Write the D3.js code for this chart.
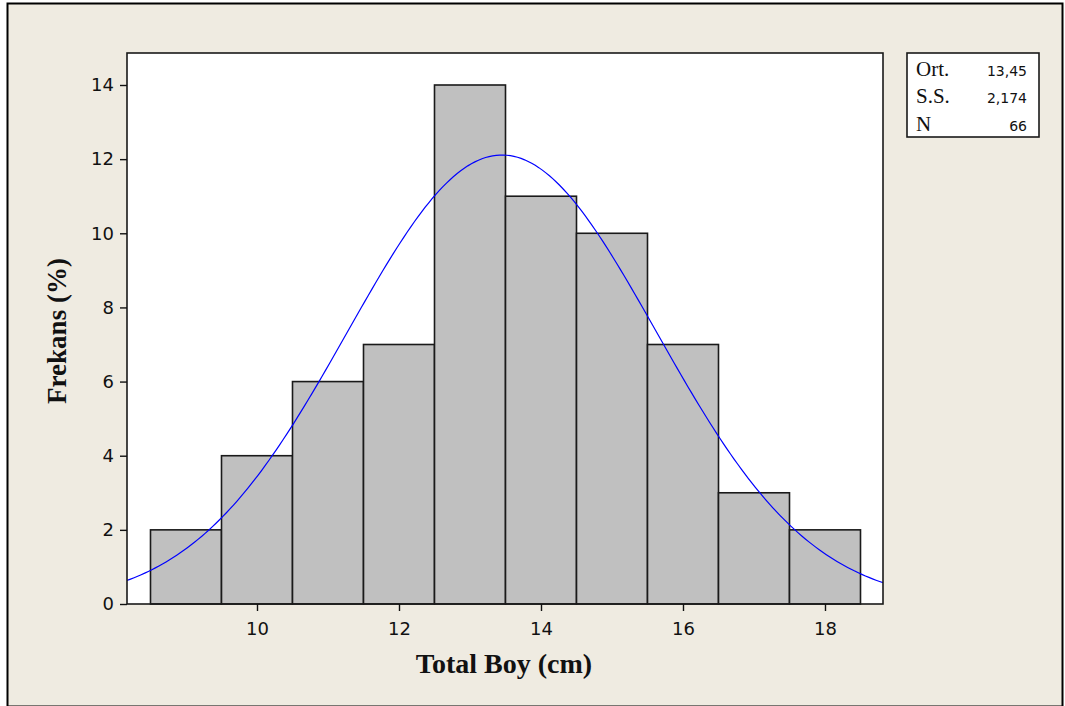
<!DOCTYPE html>
<html>
<head>
<meta charset="utf-8">
<script src="https://cdn.jsdelivr.net/npm/d3@7"></script>
<style>
  html, body { margin: 0; padding: 0; background: #fff; }
  svg { display: block; }
</style>
</head>
<body>
<svg id="chart" width="1065" height="706"></svg>
<script>
// Histogram of total length with fitted normal curve
const binStarts = [8.5, 9.5, 10.5, 11.5, 12.5, 13.5, 14.5, 15.5, 16.5, 17.5];
const binWidth = 1;
const counts = [2, 4, 6, 7, 14, 11, 10, 7, 3, 2];
const xTicks = [10, 12, 14, 16, 18];
const yTicks = [0, 2, 4, 6, 8, 10, 12, 14];
const statLabels = ["Ort.", "S.S.", "N"];
const statValues = ["13,45", "2,174", "66"];
const mean = 13.45, sd = 2.174, n = 66;

const svg = d3.select("#chart");

// page background and frame
svg.append("rect").attr("x", 0).attr("y", 0).attr("width", 1065).attr("height", 706).attr("fill", "#fff");
svg.append("rect").attr("x", 7.5).attr("y", 3.5).attr("width", 1055).attr("height", 703)
  .attr("fill", "#EFEBE1").attr("stroke", "#000").attr("stroke-width", 2);

const plot = { left: 127, right: 883, top: 53, bottom: 604 };

const x = d3.scaleLinear().domain([8.169, 18.817]).range([plot.left, plot.right]);
const y = d3.scaleLinear().domain([0, 14]).range([604, 85]);

svg.append("defs").append("clipPath").attr("id", "plotclip")
  .append("rect").attr("x", plot.left).attr("y", plot.top)
  .attr("width", plot.right - plot.left).attr("height", plot.bottom - plot.top);

svg.append("rect").attr("x", plot.left).attr("y", plot.top)
  .attr("width", plot.right - plot.left).attr("height", plot.bottom - plot.top)
  .attr("fill", "#fff");

// bars
svg.append("g").selectAll("rect").data(counts).join("rect")
  .attr("x", (d, i) => x(binStarts[i]))
  .attr("y", d => y(d))
  .attr("width", (d, i) => x(binStarts[i] + binWidth) - x(binStarts[i]))
  .attr("height", d => y(0) - y(d))
  .attr("fill", "#C0C0C0").attr("stroke", "#1a1a1a").attr("stroke-width", 1.6);

// fitted normal curve scaled to counts
const dens = v => n * binWidth / (sd * Math.sqrt(2 * Math.PI)) * Math.exp(-0.5 * ((v - mean) / sd) ** 2);
const curvePts = d3.range(x.domain()[0], x.domain()[1] + 0.01, 0.05).map(v => [v, dens(v)]);
svg.append("path").datum(curvePts)
  .attr("clip-path", "url(#plotclip)")
  .attr("d", d3.line().x(d => x(d[0])).y(d => y(d[1])))
  .attr("fill", "none").attr("stroke", "#0000FF").attr("stroke-width", 1.2);

// plot frame
svg.append("rect").attr("x", plot.left).attr("y", plot.top)
  .attr("width", plot.right - plot.left).attr("height", plot.bottom - plot.top)
  .attr("fill", "none").attr("stroke", "#1a1a1a").attr("stroke-width", 1.6);

// axes
const tickFont = "'DejaVu Sans', Verdana, sans-serif";
const serif = "'Liberation Serif', 'Times New Roman', serif";
const xAxis = svg.append("g").attr("transform", `translate(0,${plot.bottom})`)
  .call(d3.axisBottom(x).tickValues(xTicks).tickSize(7).tickPadding(11).tickFormat(d3.format("d")));
xAxis.select(".domain").remove();
xAxis.selectAll("text").attr("font-family", tickFont).attr("font-size", 18).attr("fill", "#111");
xAxis.selectAll("line").attr("stroke", "#111").attr("stroke-width", 1.4);

const yAxis = svg.append("g").attr("transform", `translate(${plot.left},0)`)
  .call(d3.axisLeft(y).tickValues(yTicks).tickSize(7).tickPadding(6).tickFormat(d3.format("d")));
yAxis.select(".domain").remove();
yAxis.selectAll("text").attr("font-family", tickFont).attr("font-size", 18).attr("fill", "#111");
yAxis.selectAll("line").attr("stroke", "#111").attr("stroke-width", 1.4);

// axis titles
svg.append("text").attr("x", 504).attr("y", 673).attr("text-anchor", "middle")
  .attr("font-family", serif).attr("font-weight", "bold")
  .attr("font-size", 28).attr("fill", "#111").text("Total Boy (cm)");
svg.append("text").attr("transform", "translate(66,331) rotate(-90)").attr("text-anchor", "middle")
  .attr("font-family", serif).attr("font-weight", "bold")
  .attr("font-size", 27).attr("fill", "#111").text("Frekans  (%)");

// summary statistics box
svg.append("rect").attr("x", 907).attr("y", 53).attr("width", 132).attr("height", 84)
  .attr("fill", "#fff").attr("stroke", "#1a1a1a").attr("stroke-width", 1.6);
const rowY = [76, 103, 131];
svg.append("g").selectAll("text").data(statLabels).join("text")
  .attr("x", 916).attr("y", (d, i) => rowY[i])
  .attr("font-family", serif).attr("font-size", 21)
  .attr("fill", "#111").text(d => d);
svg.append("g").selectAll("text").data(statValues).join("text")
  .attr("x", 1027).attr("y", (d, i) => rowY[i]).attr("text-anchor", "end")
  .attr("font-family", tickFont).attr("font-size", 14)
  .attr("fill", "#111").text(d => d);
</script>
</body>
</html>
